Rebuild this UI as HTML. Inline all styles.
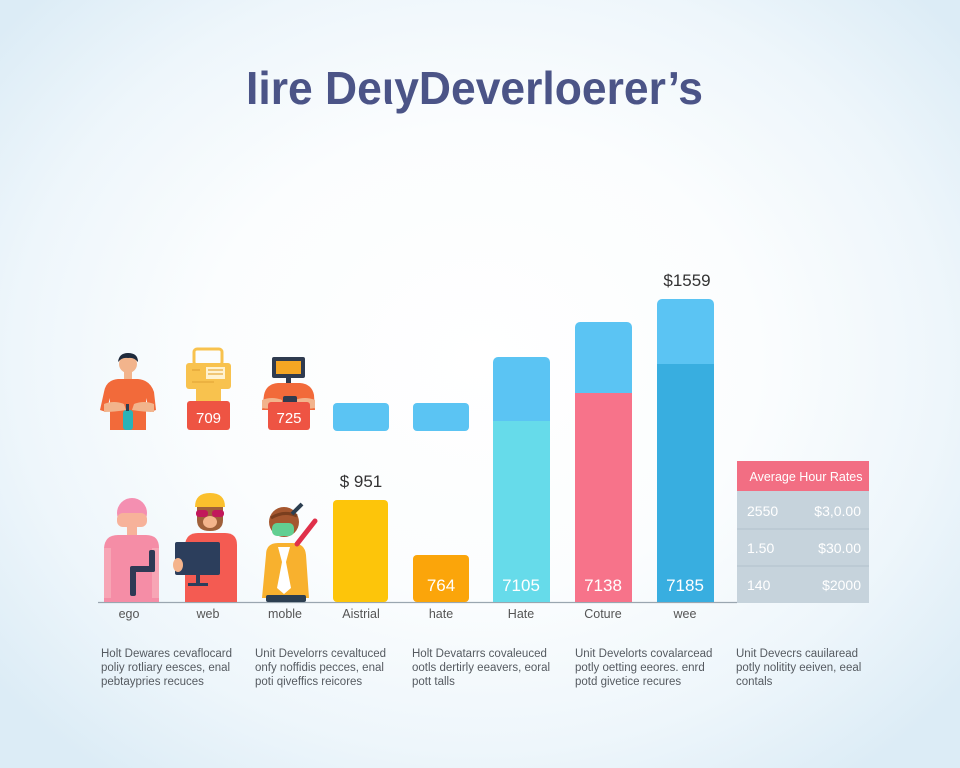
<!DOCTYPE html>
<html><head><meta charset="utf-8"><style>
html,body{margin:0;padding:0;width:960px;height:768px;overflow:hidden}
body{background:radial-gradient(ellipse 620px 520px at 480px 360px,#ffffff 0%,#fbfdfe 45%,#eef6fb 75%,#dcecf6 100%)}
svg{display:block}
text{font-family:"Liberation Sans",sans-serif}
</style></head><body>
<svg width="960" height="768" viewBox="0 0 960 768" xmlns="http://www.w3.org/2000/svg">
<!-- Title -->
<text x="246" y="104" font-size="46" font-weight="bold" fill="#4b5487" textLength="457" lengthAdjust="spacingAndGlyphs">Iire DeιyDeverloerer’s</text>

<!-- axis -->
<line x1="98" y1="602.5" x2="737" y2="602.5" stroke="#9aa6b0" stroke-width="1.2"/>

<!-- top row icons -->
<!-- person 1 -->
<circle cx="128" cy="364" r="9" fill="#f2b48c"/>
<path d="M118 362 Q119 353 128 353 Q138 353 138 362 Q134 357 128 358 Q122 357 118 362Z" fill="#1f2a3c"/>
<rect x="124" y="371" width="8" height="9" fill="#f2b48c"/>
<path d="M104 392 Q106 380 118 379 L138 379 Q150 380 154 392 L156 410 L150 412 L146 398 L146 430 L110 430 L110 398 L106 412 L100 410Z" fill="#f26a3a"/>
<path d="M104 404 Q114 400 124 404 L126 410 Q114 412 104 412Z" fill="#f2b48c"/>
<path d="M154 404 Q144 400 134 404 L132 410 Q144 412 154 412Z" fill="#f2b48c"/>
<rect x="123" y="410" width="10" height="20" rx="3" fill="#2ab3b8"/>
<rect x="126" y="404" width="3" height="7" fill="#2c3e50"/>

<!-- printer -->
<rect x="194" y="349" width="28" height="16" rx="3" fill="none" stroke="#f8c24e" stroke-width="3"/>
<rect x="186" y="363" width="45" height="26" rx="3" fill="#f8c24e"/>
<rect x="206" y="367" width="19" height="12" fill="#fff2cf"/>
<line x1="208" y1="370" x2="223" y2="370" stroke="#e5a93a" stroke-width="1.2"/>
<line x1="208" y1="374" x2="223" y2="374" stroke="#e5a93a" stroke-width="1.2"/>
<line x1="192" y1="370" x2="200" y2="370" stroke="#e5a93a" stroke-width="1.5"/>
<line x1="192" y1="382" x2="214" y2="382" stroke="#e5a93a" stroke-width="1.2"/>
<rect x="196" y="389" width="25" height="12" fill="#f8c24e"/>
<rect x="187" y="401" width="43" height="29" rx="3" fill="#ee5443"/>
<text x="208.5" y="423" font-size="15" fill="#fff" text-anchor="middle">709</text>

<!-- monitor person -->
<rect x="272" y="357" width="33" height="21" rx="2" fill="#2f3b4f"/>
<rect x="276" y="361" width="25" height="13" fill="#f5a623"/>
<rect x="286" y="378" width="5" height="5" fill="#2f3b4f"/>
<path d="M264 395 Q266 384 278 383 L300 383 Q312 384 314 395 L315 410 L262 410Z" fill="#f26a3a"/>
<path d="M262 400 Q272 396 282 400 L282 406 Q272 410 262 408Z" fill="#f2b48c"/>
<path d="M315 400 Q305 396 295 400 L295 406 Q305 410 315 408Z" fill="#f2b48c"/>
<rect x="283" y="396" width="14" height="8" rx="2" fill="#2f3b4f"/>
<rect x="268" y="402" width="42" height="28" rx="3" fill="#ee5443"/>
<text x="289" y="423" font-size="15" fill="#fff" text-anchor="middle">725</text>

<!-- bottom row icons -->
<!-- pink person -->
<circle cx="132" cy="513" r="15" fill="#f48fb1"/>
<rect x="117" y="513" width="30" height="14" rx="6" fill="#f7b29a"/>
<rect x="127" y="527" width="10" height="8" fill="#f7b29a"/>
<path d="M104 548 Q105 535 118 535 L146 535 Q159 535 159 548 L159 602 L104 602Z" fill="#f58da6"/>
<rect x="104" y="548" width="7" height="50" fill="#f7a5b5"/>
<rect x="152" y="548" width="7" height="50" fill="#f7a5b5"/>
<rect x="149" y="550" width="6" height="22" rx="2" fill="#2e3a55"/>
<rect x="132" y="566" width="23" height="6" rx="2" fill="#2e3a55"/>
<rect x="130" y="566" width="6" height="30" rx="2" fill="#2e3a55"/>

<!-- web person -->
<path d="M185 545 Q186 533 198 533 L225 533 Q237 533 237 545 L237 602 L185 602Z" fill="#f45b52"/>
<path d="M195 507 Q195 493 210 493 Q225 493 225 507Z" fill="#fbc02d"/>
<path d="M197 507 L223 507 L223 520 Q223 531 210 531 Q197 531 197 520Z" fill="#a0603a"/>
<ellipse cx="210" cy="522" rx="7" ry="6" fill="#f4b48c"/>
<rect x="196" y="510" width="12" height="7" rx="3" fill="#c2185b"/>
<rect x="212" y="510" width="12" height="7" rx="3" fill="#c2185b"/>
<rect x="175" y="542" width="45" height="33" rx="2" fill="#2c3e5c"/>
<rect x="196" y="575" width="4" height="10" fill="#2c3e5c"/>
<rect x="188" y="583" width="20" height="3" fill="#2c3e5c"/>
<ellipse cx="178" cy="565" rx="5" ry="7" fill="#f4b48c"/>

<!-- mobile person -->
<path d="M266 555 Q266 543 278 543 L292 543 Q305 543 306 555 L309 598 L262 598Z" fill="#f8b12e"/>
<path d="M278 547 L290 547 L286 562 L291 588 L284 594 L277 588 L282 562Z" fill="#ffffff"/>
<circle cx="284" cy="522" r="15" fill="#a5572f"/>
<rect x="272" y="523" width="22" height="13" rx="5" fill="#62cf92"/>
<path d="M271 518 Q284 510 297 516" stroke="#7a3e1e" stroke-width="3" fill="none"/>
<line x1="292" y1="514" x2="302" y2="504" stroke="#2c3e50" stroke-width="4"/>
<line x1="297" y1="544" x2="315" y2="521" stroke="#e0304a" stroke-width="5" stroke-linecap="round"/>
<rect x="266" y="595" width="40" height="7" rx="2" fill="#2c3e50"/>

<!-- bars -->
<rect x="333" y="403" width="56" height="28" rx="4" fill="#5bc4f3"/>
<rect x="413" y="403" width="56" height="28" rx="4" fill="#5bc4f3"/>

<rect x="333" y="500" width="55" height="102" rx="4" fill="#fdc50a"/>
<rect x="413" y="555" width="56" height="47" rx="4" fill="#fba50a"/>

<rect x="493" y="357" width="57" height="245" rx="5" fill="#5bc4f3"/>
<rect x="493" y="421" width="57" height="181" rx="0" fill="#66dbea"/>
<rect x="493" y="590" width="57" height="12" rx="4" fill="#66dbea"/>

<rect x="575" y="322" width="57" height="280" rx="5" fill="#5bc4f3"/>
<rect x="575" y="393" width="57" height="209" fill="#f7738a"/>

<rect x="657" y="299" width="57" height="303" rx="5" fill="#5bc4f3"/>
<rect x="657" y="364" width="57" height="238" fill="#38aee0"/>

<!-- bar labels -->
<text x="361" y="487" font-size="17" fill="#333" text-anchor="middle">$ 951</text>
<text x="687" y="286" font-size="17" fill="#333" text-anchor="middle">$1559</text>
<text x="441" y="591" font-size="17" fill="#fff" text-anchor="middle">764</text>
<text x="521" y="591" font-size="17" fill="#fff" text-anchor="middle">7105</text>
<text x="603" y="591" font-size="17" fill="#fff" text-anchor="middle">7138</text>
<text x="685" y="591" font-size="17" fill="#fff" text-anchor="middle">7185</text>

<!-- x labels -->
<g font-size="12.5" fill="#555" text-anchor="middle">
<text x="129" y="618">ego</text>
<text x="208" y="618">web</text>
<text x="285" y="618">moble</text>
<text x="361" y="618">Aistrial</text>
<text x="441" y="618">hate</text>
<text x="521" y="618">Hate</text>
<text x="603" y="618">Coture</text>
<text x="685" y="618">wee</text>
</g>

<!-- table -->
<rect x="737" y="461" width="132" height="30" fill="#f26e83"/>
<rect x="737" y="491" width="132" height="112" fill="#c6d3dc"/>
<line x1="737" y1="529" x2="869" y2="529" stroke="#b2c1cb" stroke-width="1"/>
<line x1="737" y1="566" x2="869" y2="566" stroke="#b2c1cb" stroke-width="1"/>
<text x="806" y="481" font-size="12.5" fill="#fff" text-anchor="middle">Average Hour Rates</text>
<g font-size="14" fill="#fff">
<text x="747" y="516">2550</text>
<text x="747" y="553">1.50</text>
<text x="747" y="590">140</text>
<text x="861" y="516" text-anchor="end">$3,0.00</text>
<text x="861" y="553" text-anchor="end">$30.00</text>
<text x="861" y="590" text-anchor="end">$2000</text>
</g>

<!-- descriptions -->
<g font-size="11.5" fill="#555a60">
<text x="101" y="657">Holt Dewares cevaflocard</text>
<text x="101" y="671">poliy rotliary eesces, enal</text>
<text x="101" y="685">pebtaypries recuces</text>
<text x="255" y="657">Unit Develorrs cevaltuced</text>
<text x="255" y="671">onfy noffidis pecces, enal</text>
<text x="255" y="685">poti qiveffics reicores</text>
<text x="412" y="657">Holt Devatarrs covaleuced</text>
<text x="412" y="671">ootls dertirly eeavers, eoral</text>
<text x="412" y="685">pott talls</text>
<text x="575" y="657">Unit Develorts covalarcead</text>
<text x="575" y="671">potly oetting eeores. enrd</text>
<text x="575" y="685">potd givetice recures</text>
<text x="736" y="657">Unit Devecrs cauilaread</text>
<text x="736" y="671">potly nolitity eeiven, eeal</text>
<text x="736" y="685">contals</text>
</g>
</svg>
</body></html>
